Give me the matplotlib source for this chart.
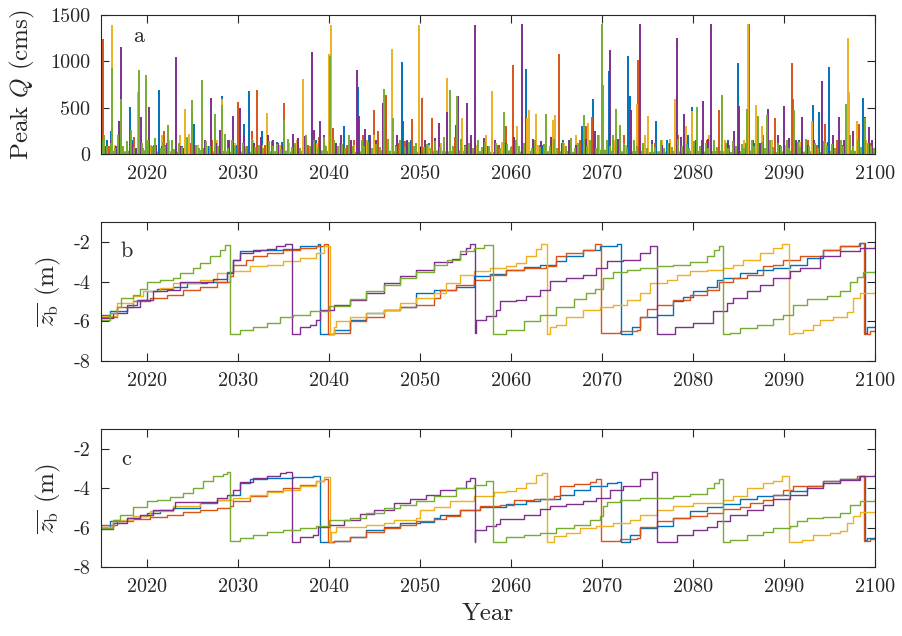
import matplotlib
matplotlib.use("Agg")
import matplotlib.pyplot as plt

plt.rcParams["font.family"] = "cmr10"
plt.rcParams["mathtext.fontset"] = "cm"
plt.rcParams["axes.unicode_minus"] = False

# MATLAB default colour order
colors = {
    "blue": "#0072BD",
    "orange": "#D95319",
    "yellow": "#EDB120",
    "purple": "#7E2F8E",
    "green": "#77AC30",
}
order = ["blue", "orange", "yellow", "purple", "green"]

# ---- panel a: peak discharge events (year, Q in cms) ----
peaks_blue = [
    (2015.05, 529), (2015.6, 150), (2016.0, 250), (2017.3, 80), (2018.1, 504), (2018.5, 150),
    (2019.5, 100), (2020.6, 80), (2021.3, 690), (2022.0, 100), (2023.8, 90), (2025.0, 470),
    (2025.2, 320), (2026.7, 80), (2028.2, 620), (2028.9, 150), (2029.8, 100), (2030.7, 320),
    (2031.2, 683), (2032.6, 250), (2034.3, 130), (2034.8, 130), (2036.5, 80), (2038.6, 150),
    (2041.7, 300), (2043.2, 720), (2044.4, 200), (2045.4, 150), (2047.4, 100), (2048.0, 996),
    (2048.1, 360), (2049.0, 150), (2051.0, 120), (2052.6, 110), (2054.0, 310), (2055.0, 100),
    (2057.4, 80), (2058.7, 100), (2060.8, 80), (2061.6, 917), (2063.5, 100), (2065.7, 150),
    (2066.5, 80), (2067.8, 300), (2069.0, 590), (2070.75, 895), (2072.0, 250), (2072.9, 1057),
    (2073.1, 626), (2074.6, 120), (2075.9, 350), (2077.2, 150), (2079.5, 200), (2079.9, 510),
    (2081.0, 150), (2083.8, 150), (2084.9, 985), (2086.8, 120), (2089.6, 100), (2091.6, 150),
    (2092.4, 100), (2093.15, 525), (2093.9, 450), (2094.8, 130), (2095.0, 942), (2096.5, 100),
    (2098.65, 608), (2099.2, 100),
]
peaks_orange = [
    (2015.2, 1237), (2015.8, 80), (2016.9, 120), (2018.6, 180), (2019.0, 200), (2020.8, 100),
    (2021.9, 250), (2022.8, 120), (2024.8, 120), (2026.3, 60), (2027.2, 150), (2028.6, 90),
    (2029.3, 150), (2030.0, 565), (2031.0, 80), (2031.5, 250), (2032.1, 690), (2033.0, 100),
    (2033.7, 140), (2035.05, 547), (2036.4, 80), (2037.7, 100), (2038.9, 180), (2040.4, 280),
    (2042.0, 100), (2042.8, 150), (2043.7, 200), (2044.9, 475), (2045.4, 250), (2046.3, 637),
    (2047.7, 120), (2048.4, 140), (2049.1, 380), (2050.2, 601), (2051.3, 390), (2052.3, 120),
    (2053.8, 180), (2055.6, 150), (2057.6, 60), (2058.6, 100), (2059.5, 300), (2060.2, 960),
    (2063.2, 100), (2065.3, 1079), (2066.5, 120), (2067.6, 150), (2068.3, 300), (2068.9, 400),
    (2069.6, 170), (2071.3, 120), (2072.4, 200), (2074.0, 1014), (2075.8, 120), (2077.5, 100),
    (2078.4, 200), (2080.3, 120), (2081.5, 150), (2082.9, 475), (2084.0, 100), (2085.8, 120),
    (2086.15, 1399), (2087.7, 200), (2089.0, 385), (2090.9, 978), (2091.0, 590), (2092.6, 150),
    (2093.6, 100), (2094.5, 320), (2095.8, 150), (2096.8, 120), (2098.2, 320), (2099.5, 120),
]
peaks_yellow = [
    (2015.4, 50), (2016.15, 1395), (2016.5, 100), (2017.8, 80), (2018.4, 100), (2019.0, 672),
    (2020.4, 100), (2021.7, 200), (2022.4, 150), (2023.6, 200), (2024.2, 482), (2024.6, 220),
    (2025.6, 100), (2026.6, 80), (2027.7, 150), (2028.2, 590), (2029.7, 120), (2030.8, 80),
    (2031.6, 150), (2032.6, 100), (2033.15, 439), (2034.6, 100), (2035.6, 120), (2036.5, 150),
    (2037.1, 565), (2037.2, 806), (2038.7, 120), (2039.6, 100), (2040.0, 1079), (2040.2, 1392),
    (2041.2, 120), (2042.7, 100), (2044.2, 150), (2045.0, 200), (2046.9, 1130), (2048.6, 120),
    (2049.9, 1392), (2051.0, 100), (2052.3, 120), (2053.0, 817), (2054.6, 390), (2056.2, 100),
    (2057.3, 200), (2057.95, 680), (2059.0, 130), (2060.7, 300), (2061.8, 390), (2062.0, 475),
    (2062.8, 430), (2063.0, 100), (2064.6, 370), (2064.8, 420), (2065.8, 120), (2067.2, 200),
    (2068.5, 330), (2069.7, 200), (2071.3, 150), (2072.6, 100), (2073.9, 540), (2074.7, 200),
    (2075.1, 410), (2076.6, 150), (2077.5, 160), (2078.0, 590), (2079.2, 300), (2079.9, 460),
    (2081.8, 200), (2083.5, 150), (2085.6, 150), (2086.1, 1399), (2086.9, 525), (2087.6, 300),
    (2088.7, 150), (2090.2, 100), (2091.8, 130), (2093.1, 350), (2094.6, 120), (2096.2, 150),
    (2097.0, 1248), (2097.1, 667), (2098.0, 360), (2099.0, 150),
]
peaks_purple = [
    (2015.4, 80), (2016.0, 150), (2016.6, 90), (2016.9, 360), (2017.1, 600), (2017.2, 1158),
    (2018.3, 120), (2018.8, 60), (2019.3, 400), (2019.9, 150), (2020.2, 510), (2021.0, 100),
    (2021.7, 80), (2022.2, 120), (2023.2, 1050), (2023.6, 90), (2024.0, 60), (2025.3, 100),
    (2026.4, 150), (2027.0, 601), (2027.6, 120), (2028.0, 260), (2029.0, 150), (2029.5, 410),
    (2030.2, 500), (2030.7, 200), (2031.8, 120), (2032.5, 180), (2033.3, 200), (2033.9, 150),
    (2034.4, 120), (2035.0, 80), (2036.0, 216), (2036.6, 170), (2037.4, 190), (2038.1, 1104),
    (2038.4, 260), (2039.0, 350), (2039.5, 200), (2040.8, 120), (2041.3, 200), (2042.4, 150),
    (2043.05, 906), (2043.3, 410), (2044.0, 270), (2044.5, 200), (2045.2, 150), (2045.9, 550),
    (2047.5, 200), (2048.6, 150), (2049.6, 120), (2050.6, 150), (2051.6, 170), (2052.1, 330),
    (2053.0, 456), (2054.2, 626), (2055.2, 550), (2055.6, 200), (2056.05, 1392), (2057.0, 170),
    (2058.3, 150), (2059.5, 120), (2060.3, 180), (2061.2, 1399), (2062.4, 160), (2063.3, 140),
    (2064.4, 180), (2065.6, 120), (2066.4, 150), (2067.2, 100), (2068.3, 160), (2069.2, 250),
    (2070.9, 1122), (2071.8, 160), (2072.4, 120), (2073.2, 475), (2074.2, 1399), (2075.5, 150),
    (2076.6, 100), (2077.4, 120), (2078.2, 1255), (2078.7, 180), (2079.0, 430), (2080.3, 150),
    (2081.1, 575), (2081.7, 160), (2081.95, 1399), (2083.9, 140), (2084.5, 250), (2085.1, 518),
    (2086.6, 150), (2087.4, 120), (2088.2, 485), (2089.4, 200), (2090.0, 520), (2090.6, 170),
    (2091.3, 150), (2092.0, 395), (2092.6, 100), (2093.3, 150), (2094.2, 788), (2095.4, 200),
    (2096.0, 400), (2096.6, 150), (2097.6, 250), (2098.9, 395), (2099.4, 290), (2099.7, 150),
]
peaks_green = [
    (2015.1, 150), (2015.3, 200), (2015.6, 90), (2016.0, 120), (2016.2, 931), (2016.5, 60),
    (2016.8, 200), (2017.1, 590), (2017.4, 80), (2017.8, 140), (2018.2, 260), (2018.6, 70),
    (2019.1, 906), (2019.4, 120), (2019.6, 60), (2019.85, 852), (2020.1, 150), (2020.5, 90),
    (2020.9, 170), (2021.5, 60), (2021.8, 130), (2022.0, 80), (2022.3, 313), (2022.7, 150),
    (2023.0, 50), (2023.5, 120), (2023.9, 70), (2024.4, 180), (2024.9, 583), (2025.4, 100),
    (2025.7, 60), (2026.1, 798), (2026.5, 140), (2026.9, 80), (2027.5, 430), (2027.8, 90),
    (2028.2, 530), (2028.6, 220), (2028.9, 60), (2029.3, 150), (2029.7, 80), (2030.5, 120),
    (2030.9, 60), (2031.5, 160), (2031.9, 70), (2032.3, 100), (2032.8, 60), (2033.4, 140),
    (2033.8, 80), (2034.3, 110), (2034.7, 50), (2035.1, 370), (2035.5, 160), (2035.9, 70),
    (2036.3, 120), (2036.8, 60), (2037.5, 200), (2037.9, 80), (2038.4, 150), (2038.8, 60),
    (2039.4, 180), (2039.7, 90), (2040.1, 1057), (2040.6, 150), (2041.0, 80), (2041.4, 110),
    (2041.8, 60), (2042.2, 200), (2042.6, 80), (2043.6, 150), (2043.9, 90), (2044.3, 130),
    (2044.7, 60), (2045.2, 110), (2045.6, 70), (2046.0, 698), (2046.5, 160), (2047.0, 390),
    (2047.4, 90), (2047.8, 150), (2048.4, 70), (2048.8, 130), (2049.3, 80), (2049.6, 120),
    (2050.4, 70), (2050.8, 110), (2051.2, 60), (2051.7, 140), (2052.2, 70), (2052.6, 180),
    (2053.3, 690), (2053.6, 90), (2054.1, 630), (2054.5, 160), (2054.9, 80), (2055.4, 120),
    (2055.8, 60), (2056.4, 150), (2056.8, 70), (2057.2, 130), (2057.6, 80), (2058.4, 120),
    (2058.8, 60), (2059.2, 450), (2059.6, 110), (2060.0, 70), (2060.5, 150), (2060.9, 80),
    (2061.4, 120), (2062.3, 60), (2062.6, 150), (2063.2, 70), (2063.6, 110), (2063.9, 430),
    (2064.3, 80), (2064.7, 160), (2065.1, 60), (2065.7, 130), (2066.1, 80), (2066.6, 170),
    (2067.0, 60), (2067.4, 120), (2068.0, 420), (2068.4, 80), (2068.7, 150), (2069.3, 60),
    (2069.6, 200), (2070.0, 1399), (2070.15, 744), (2070.5, 150), (2070.9, 80), (2071.2, 200),
    (2071.5, 480), (2072.0, 310), (2072.4, 120), (2072.7, 60), (2073.5, 150), (2073.8, 80),
    (2074.5, 120), (2074.9, 60), (2075.5, 110), (2075.8, 70), (2076.5, 150), (2076.8, 60),
    (2077.3, 120), (2077.7, 70), (2078.4, 160), (2078.8, 80), (2079.3, 110), (2079.6, 60),
    (2080.1, 140), (2080.4, 510), (2080.8, 80), (2081.4, 120), (2081.7, 60), (2082.3, 150),
    (2082.6, 70), (2083.2, 637), (2083.6, 120), (2083.9, 60), (2084.4, 140), (2084.7, 80),
    (2085.4, 110), (2085.6, 60), (2085.9, 480), (2086.5, 150), (2086.7, 80), (2087.2, 410),
    (2087.6, 130), (2087.9, 60), (2088.1, 420), (2088.5, 150), (2088.8, 70), (2089.4, 120),
    (2089.7, 80), (2090.3, 150), (2090.6, 60), (2091.1, 470), (2091.5, 130), (2091.8, 70),
    (2092.4, 160), (2092.7, 80), (2093.4, 120), (2093.7, 60), (2094.4, 140), (2094.7, 80),
    (2095.3, 110), (2095.6, 60), (2096.3, 150), (2096.5, 80), (2096.8, 540), (2097.3, 200),
    (2097.6, 90), (2098.1, 150), (2098.5, 70), (2098.9, 385), (2099.2, 120), (2099.6, 80),
    (2099.9, 60),
]
peaks = {
    "blue": peaks_blue,
    "orange": peaks_orange,
    "yellow": peaks_yellow,
    "purple": peaks_purple,
    "green": peaks_green,
}

# green low-flow carpet under the peaks (year, Q)
base_green = [
    (2015, 30), (2016, 45), (2017, 25), (2018, 40), (2019, 35), (2020, 50), (2021, 30),
    (2022, 45), (2023, 25), (2024, 40), (2025, 35), (2026, 50), (2027, 30), (2028, 45),
    (2029, 30), (2030, 35), (2031, 25), (2032, 40), (2033, 30), (2034, 35), (2035, 45),
    (2036, 25), (2037, 40), (2038, 30), (2039, 45), (2040, 35), (2041, 30), (2042, 40),
    (2043, 25), (2044, 45), (2045, 30), (2046, 50), (2047, 35), (2048, 30), (2049, 40),
    (2050, 25), (2051, 35), (2052, 45), (2053, 30), (2054, 50), (2055, 35), (2056, 30),
    (2057, 40), (2058, 25), (2059, 35), (2060, 45), (2061, 30), (2062, 40), (2063, 25),
    (2064, 35), (2065, 30), (2066, 40), (2067, 25), (2068, 45), (2069, 30), (2070, 55),
    (2071, 40), (2072, 35), (2073, 30), (2074, 45), (2075, 25), (2076, 35), (2077, 30),
    (2078, 40), (2079, 25), (2080, 45), (2081, 30), (2082, 35), (2083, 40), (2084, 25),
    (2085, 35), (2086, 45), (2087, 30), (2088, 40), (2089, 25), (2090, 35), (2091, 40),
    (2092, 30), (2093, 35), (2094, 25), (2095, 40), (2096, 30), (2097, 50), (2098, 35),
    (2099, 30), (2100, 25),
]

# ---- panel b: mean bed elevation (year, z_b in m), stepped ----
zb_b_blue = [
    (2015.0, -5.68), (2015.9, -5.5), (2017.8, -5.17), (2018.9, -4.92), (2020.0, -4.5),
    (2021.1, -4.38), (2022.9, -4.25), (2024.4, -4.08), (2026.6, -4.0), (2028.8, -3.5),
    (2029.5, -2.9), (2030.2, -2.47), (2032.4, -2.4), (2035.0, -2.34), (2036.8, -2.22),
    (2038.8, -2.13), (2039.0, -6.65), (2040.5, -6.44), (2042.3, -5.94), (2044.1, -5.6),
    (2046.0, -5.43), (2047.8, -5.26), (2049.6, -4.58), (2051.5, -4.42), (2054.0, -4.28),
    (2055.9, -3.74), (2057.7, -3.62), (2059.5, -3.4), (2061.4, -3.27), (2063.2, -3.15),
    (2065.0, -2.98), (2066.1, -2.73), (2067.9, -2.42), (2069.8, -2.22), (2071.6, -2.13),
    (2072.1, -6.65), (2073.3, -6.27), (2074.2, -5.8), (2076.0, -5.68), (2077.8, -5.0),
    (2078.9, -4.79), (2080.0, -4.5), (2081.5, -4.25), (2082.6, -3.9), (2083.3, -3.82),
    (2085.2, -3.57), (2087.0, -3.4), (2088.8, -3.32), (2090.7, -3.15), (2092.5, -2.81),
    (2094.3, -2.39), (2096.2, -2.22), (2098.4, -2.08), (2098.9, -6.61), (2099.1, -6.3),
    (2100.0, -6.25),
]
zb_b_orange = [
    (2015.0, -5.77), (2016.7, -5.26), (2018.5, -5.0), (2020.3, -4.84), (2022.2, -4.67),
    (2024.0, -4.42), (2025.8, -4.25), (2027.7, -4.0), (2029.1, -3.74), (2029.5, -3.15),
    (2030.9, -2.9), (2031.7, -2.73), (2033.2, -2.56), (2035.0, -2.39), (2036.8, -2.3),
    (2038.6, -2.2), (2039.4, -2.13), (2039.9, -6.65), (2040.5, -6.6), (2042.3, -6.0),
    (2044.1, -5.77), (2046.0, -5.43), (2047.8, -5.26), (2049.6, -5.17), (2051.5, -4.84),
    (2052.2, -4.42), (2054.0, -4.16), (2055.9, -3.94), (2057.7, -3.66), (2059.5, -3.4),
    (2061.4, -3.32), (2063.9, -3.23), (2065.0, -2.73), (2066.1, -2.56), (2067.9, -2.39),
    (2069.2, -2.13), (2069.9, -6.6), (2072.0, -6.48), (2073.8, -6.44), (2074.2, -5.77),
    (2074.9, -5.4), (2076.0, -5.17), (2077.8, -4.92), (2079.7, -4.67), (2081.5, -4.42),
    (2082.9, -4.0), (2084.4, -3.82), (2085.9, -3.66), (2087.7, -3.23), (2088.8, -3.15),
    (2089.9, -2.9), (2091.8, -2.73), (2094.3, -2.39), (2096.2, -2.22), (2098.2, -2.08),
    (2098.8, -6.65), (2099.5, -6.48), (2100.0, -6.4),
]
zb_b_yellow = [
    (2015.0, -5.73), (2016.7, -5.1), (2018.5, -4.75), (2019.6, -4.5), (2021.4, -4.33),
    (2022.9, -4.08), (2025.8, -3.9), (2027.7, -3.57), (2029.5, -3.49), (2031.3, -3.23),
    (2033.2, -3.15), (2035.0, -2.98), (2036.8, -2.81), (2038.6, -2.56), (2039.5, -2.22),
    (2040.1, -6.65), (2040.5, -6.27), (2040.8, -6.0), (2042.3, -5.77), (2044.1, -5.6),
    (2046.0, -5.43), (2047.8, -5.1), (2049.6, -4.84), (2051.5, -4.58), (2052.9, -4.08),
    (2054.4, -3.66), (2055.9, -3.49), (2057.7, -3.32), (2059.5, -3.23), (2060.6, -3.06),
    (2061.7, -2.73), (2062.8, -2.35), (2063.3, -2.1), (2064.0, -6.65), (2064.3, -6.27),
    (2065.0, -6.2), (2066.1, -5.77), (2067.9, -5.43), (2069.8, -5.26), (2071.2, -5.17),
    (2072.7, -4.92), (2074.2, -4.58), (2075.3, -4.08), (2077.1, -3.9), (2078.2, -3.66),
    (2079.7, -3.49), (2081.5, -3.44), (2083.3, -3.32), (2084.4, -3.15), (2085.5, -2.9),
    (2087.4, -2.56), (2088.8, -2.3), (2089.8, -2.1), (2090.6, -6.65), (2091.0, -6.58),
    (2092.1, -6.44), (2093.2, -6.2), (2094.0, -5.94), (2095.4, -5.8), (2096.9, -5.51),
    (2097.6, -4.84), (2098.4, -4.58), (2100.0, -4.55),
]
zb_b_purple = [
    (2015.0, -5.85), (2016.3, -5.6), (2017.8, -5.26), (2019.2, -4.92), (2020.7, -4.5),
    (2022.2, -4.42), (2023.6, -4.04), (2027.3, -3.85), (2028.8, -3.57), (2029.5, -2.9),
    (2030.2, -2.56), (2031.7, -2.42), (2033.2, -2.35), (2034.2, -2.22), (2035.2, -2.13),
    (2035.9, -6.65), (2036.8, -6.27), (2037.9, -6.2), (2038.6, -5.94), (2039.0, -5.43),
    (2040.5, -5.17), (2042.3, -4.92), (2044.1, -4.58), (2046.0, -4.08), (2047.8, -3.74),
    (2049.6, -3.4), (2051.5, -3.0), (2053.5, -2.85), (2054.4, -2.6), (2055.1, -2.3),
    (2055.5, -2.13), (2056.0, -6.6), (2056.2, -5.94), (2057.3, -5.75), (2058.4, -5.43),
    (2058.8, -5.0), (2060.6, -4.92), (2061.7, -4.75), (2063.2, -4.42), (2064.3, -3.96),
    (2066.1, -3.82), (2067.9, -3.66), (2069.4, -3.32), (2070.5, -2.98), (2072.3, -2.9),
    (2074.2, -2.56), (2075.3, -2.2), (2076.0, -6.65), (2078.0, -6.27), (2080.0, -6.07),
    (2082.2, -5.5), (2083.7, -5.1), (2084.4, -4.84), (2085.9, -4.5), (2087.4, -4.16),
    (2088.8, -3.82), (2090.7, -3.49), (2091.8, -3.32), (2094.0, -2.73), (2096.2, -2.47),
    (2098.4, -2.3), (2100.0, -2.13),
]
zb_b_green = [
    (2015.0, -5.94), (2015.9, -5.6), (2016.7, -5.26), (2017.2, -4.84), (2018.5, -4.67),
    (2019.2, -4.4), (2020.0, -4.0), (2021.4, -3.9), (2022.9, -3.8), (2023.6, -3.57),
    (2025.1, -3.3), (2025.8, -3.06), (2026.9, -2.73), (2028.0, -2.39), (2028.6, -2.17),
    (2029.1, -6.65), (2030.2, -6.44), (2031.7, -6.3), (2033.2, -6.1), (2034.6, -5.77),
    (2036.1, -5.68), (2037.9, -5.48), (2040.0, -5.23), (2042.3, -4.9), (2044.1, -4.5),
    (2046.0, -4.16), (2047.8, -3.8), (2049.6, -3.5), (2051.5, -3.15), (2053.0, -2.9),
    (2054.4, -2.47), (2055.9, -2.3), (2057.0, -2.17), (2058.0, -6.65), (2059.5, -6.44),
    (2061.4, -6.0), (2063.2, -5.7), (2065.0, -5.3), (2066.9, -4.9), (2068.3, -4.6),
    (2069.2, -4.4), (2070.1, -3.8), (2071.2, -3.5), (2072.7, -3.4), (2074.2, -3.3),
    (2076.0, -3.2), (2077.8, -3.15), (2079.7, -3.0), (2081.5, -2.7), (2082.3, -2.4),
    (2082.9, -2.2), (2083.3, -6.65), (2084.1, -6.6), (2085.2, -6.35), (2087.0, -6.2),
    (2088.8, -5.9), (2089.9, -5.7), (2091.0, -5.2), (2092.5, -4.9), (2094.7, -4.75),
    (2096.2, -4.5), (2097.3, -4.0), (2098.0, -3.75), (2098.7, -3.5), (2100.0, -3.45),
]

# ---- panel c ----
zb_c_blue = [
    (2015.0, -5.95), (2015.9, -5.69), (2017.8, -5.5), (2019.2, -5.43), (2020.0, -5.27),
    (2021.4, -5.1), (2022.9, -5.0), (2025.8, -4.76), (2027.7, -4.59), (2029.1, -4.33),
    (2030.2, -3.73), (2031.3, -3.56), (2033.2, -3.48), (2036.1, -3.43), (2038.2, -3.36),
    (2039.0, -6.71), (2040.5, -6.66), (2042.3, -6.46), (2044.1, -6.12), (2046.0, -5.95),
    (2047.8, -5.78), (2050.0, -5.7), (2051.5, -5.52), (2052.2, -5.35), (2054.4, -5.1),
    (2056.6, -4.96), (2059.5, -4.79), (2061.7, -4.64), (2063.2, -4.53), (2065.4, -4.33),
    (2066.9, -4.07), (2068.7, -3.9), (2070.5, -3.73), (2071.6, -3.68), (2072.1, -6.71),
    (2073.1, -6.37), (2074.2, -6.03), (2076.0, -5.91), (2077.8, -5.52), (2079.7, -5.18),
    (2081.5, -4.96), (2083.3, -4.79), (2085.2, -4.55), (2087.0, -4.41), (2088.8, -4.33),
    (2090.7, -4.16), (2092.5, -3.9), (2094.3, -3.65), (2096.2, -3.53), (2098.2, -3.39),
    (2098.9, -6.63), (2099.1, -6.55), (2100.0, -6.5),
]
zb_c_orange = [
    (2015.0, -5.86), (2016.7, -5.69), (2018.5, -5.57), (2020.3, -5.47), (2022.2, -5.35),
    (2024.0, -5.23), (2025.8, -5.1), (2027.7, -5.01), (2029.1, -4.93), (2029.5, -4.67),
    (2031.3, -4.41), (2033.2, -4.16), (2035.0, -3.99), (2036.8, -3.82), (2038.6, -3.65),
    (2039.4, -3.53), (2039.9, -6.71), (2040.5, -6.66), (2042.3, -6.46), (2044.1, -6.2),
    (2046.0, -6.03), (2047.8, -5.86), (2049.6, -5.69), (2051.5, -5.57), (2052.9, -5.4),
    (2054.4, -5.1), (2056.6, -4.93), (2058.8, -4.84), (2060.3, -4.62), (2062.5, -4.53),
    (2064.7, -4.41), (2065.4, -3.9), (2066.9, -3.77), (2068.7, -3.7), (2069.4, -3.53),
    (2069.9, -6.66), (2072.0, -6.6), (2073.8, -6.52), (2074.2, -5.95), (2076.0, -5.66),
    (2077.8, -5.52), (2079.7, -5.4), (2081.5, -5.27), (2083.3, -5.06), (2085.2, -4.96),
    (2086.3, -4.76), (2087.7, -4.59), (2088.8, -4.33), (2089.9, -4.07), (2091.0, -3.87),
    (2094.3, -3.65), (2096.2, -3.55), (2098.0, -3.36), (2098.8, -6.66), (2099.5, -6.58),
    (2100.0, -6.52),
]
zb_c_yellow = [
    (2015.0, -5.98), (2016.3, -5.6), (2018.5, -5.4), (2020.3, -5.18), (2022.9, -4.93),
    (2025.8, -4.72), (2027.7, -4.59), (2029.5, -4.5), (2031.3, -4.33), (2033.2, -4.21),
    (2035.0, -4.11), (2036.8, -3.9), (2038.6, -3.62), (2039.5, -3.43), (2040.1, -6.71),
    (2040.2, -6.2), (2040.8, -5.98), (2044.1, -5.85), (2046.0, -5.78), (2047.1, -5.6),
    (2049.6, -5.5), (2050.0, -5.1), (2051.5, -4.96), (2053.3, -4.67), (2055.9, -4.41),
    (2058.1, -4.21), (2059.5, -4.16), (2060.6, -3.99), (2061.7, -3.73), (2062.8, -3.31),
    (2063.4, -3.22), (2064.0, -6.71), (2064.7, -6.45), (2066.1, -6.29), (2067.6, -6.03),
    (2069.4, -5.91), (2071.2, -5.78), (2073.1, -5.6), (2074.2, -5.35), (2076.0, -5.1),
    (2077.8, -4.93), (2080.0, -4.76), (2083.3, -4.59), (2084.4, -4.41), (2085.9, -3.99),
    (2087.7, -3.73), (2088.8, -3.62), (2089.8, -3.39), (2090.6, -6.71), (2092.0, -6.63),
    (2093.2, -6.37), (2095.1, -6.29), (2096.2, -6.15), (2096.9, -5.78), (2097.6, -5.43),
    (2098.4, -5.23), (2100.0, -5.2),
]
zb_c_purple = [
    (2015.0, -6.08), (2016.3, -5.78), (2017.8, -5.52), (2019.2, -5.35), (2020.7, -5.1),
    (2022.9, -5.01), (2023.1, -4.72), (2026.9, -4.69), (2027.7, -4.5), (2028.8, -4.33),
    (2029.5, -4.07), (2030.2, -3.7), (2031.7, -3.48), (2033.2, -3.39), (2034.6, -3.22),
    (2035.3, -3.17), (2035.9, -6.71), (2036.8, -6.49), (2038.3, -6.37), (2038.8, -5.95),
    (2040.0, -5.86), (2041.6, -5.6), (2043.4, -5.3), (2044.9, -5.1), (2047.1, -4.76),
    (2048.9, -4.55), (2050.7, -4.33), (2052.2, -4.1), (2054.0, -3.99), (2055.1, -3.65),
    (2055.5, -3.48), (2056.0, -6.71), (2056.1, -6.12), (2057.3, -5.91), (2058.4, -5.8),
    (2058.8, -5.57), (2061.4, -5.35), (2063.2, -5.06), (2064.3, -4.89), (2066.1, -4.79),
    (2067.9, -4.67), (2069.4, -4.5), (2070.9, -4.07), (2072.3, -3.9), (2074.2, -3.56),
    (2075.5, -3.19), (2076.0, -6.71), (2078.2, -6.37), (2080.0, -6.12), (2081.5, -5.95),
    (2082.6, -5.69), (2084.1, -5.35), (2085.9, -5.1), (2087.7, -4.84), (2088.8, -4.55),
    (2090.7, -4.33), (2092.5, -3.99), (2094.3, -3.73), (2096.2, -3.6), (2098.4, -3.39),
    (2100.0, -3.26),
]
zb_c_green = [
    (2015.0, -6.03), (2016.3, -5.6), (2017.0, -5.35), (2018.5, -4.96), (2020.0, -4.67),
    (2021.1, -4.58), (2022.5, -4.45), (2024.0, -4.24), (2025.1, -3.99), (2026.2, -3.65),
    (2027.3, -3.39), (2028.4, -3.26), (2028.8, -3.19), (2029.1, -6.68), (2030.2, -6.54),
    (2031.7, -6.37), (2033.2, -6.2), (2035.0, -6.12), (2036.8, -6.03), (2038.6, -5.9),
    (2040.0, -5.6), (2042.3, -5.52), (2044.1, -5.27), (2046.0, -5.01), (2047.8, -4.84),
    (2049.6, -4.67), (2051.5, -4.41), (2054.0, -3.99), (2055.9, -3.82), (2057.3, -3.65),
    (2058.0, -6.71), (2059.5, -6.49), (2061.4, -6.4), (2063.2, -6.3), (2065.0, -6.03),
    (2066.9, -5.86), (2068.7, -5.6), (2069.8, -5.43), (2070.1, -4.89), (2070.5, -4.72),
    (2072.0, -4.58), (2074.2, -4.5), (2077.8, -4.38), (2079.7, -4.3), (2081.5, -3.99),
    (2082.3, -3.73), (2082.9, -3.53), (2083.3, -6.71), (2084.1, -6.65), (2085.9, -6.37),
    (2087.7, -6.2), (2088.8, -6.03), (2090.7, -5.91), (2091.4, -5.66), (2092.5, -5.52),
    (2094.3, -5.45), (2096.2, -5.27), (2097.3, -4.84), (2098.4, -4.67), (2100.0, -4.53),
]

zb_b = {"blue": zb_b_blue, "orange": zb_b_orange, "yellow": zb_b_yellow,
        "purple": zb_b_purple, "green": zb_b_green}
zb_c = {"blue": zb_c_blue, "orange": zb_c_orange, "yellow": zb_c_yellow,
        "purple": zb_c_purple, "green": zb_c_green}

year_ticks = [2020, 2030, 2040, 2050, 2060, 2070, 2080, 2090, 2100]
q_ticks = [0, 500, 1000, 1500]
zb_ticks = [-8, -6, -4, -2]

fig = plt.figure(figsize=(9.02, 6.36), dpi=100)
ax_a = fig.add_axes([0.1125, 0.758, 0.8575, 0.2186])
ax_b = fig.add_axes([0.1125, 0.4324, 0.8575, 0.2186])
ax_c = fig.add_axes([0.1125, 0.1085, 0.8575, 0.217])

# panel a: peaks as vertical lines, green carpet on top
for name in order:
    t, q = zip(*peaks[name])
    ax_a.vlines(t, 0, q, color=colors[name], lw=1.4)
tb, qb = zip(*base_green)
ax_a.fill_between(tb, 0, qb, color=colors["green"], lw=0)

# panels b, c: stepped bed elevation
for ax, data in [(ax_b, zb_b), (ax_c, zb_c)]:
    for name in order:
        t, z = zip(*data[name])
        ax.plot(t, z, drawstyle="steps-post", color=colors[name], lw=1.0)

for ax in [ax_a, ax_b, ax_c]:
    ax.set_xlim(2015, 2100)
    ax.set_xticks(year_ticks)
    ax.set_xticklabels([str(y) for y in year_ticks])
    ax.tick_params(direction="in", length=5.5, width=0.8, top=True, right=True,
                   labelsize=14.5, colors="#262626", pad=8)
    for s in ax.spines.values():
        s.set_color("#262626")
        s.set_linewidth(0.8)

ax_a.set_ylim(0, 1500)
ax_a.set_yticks(q_ticks)
ax_a.set_yticklabels([str(v) for v in q_ticks])
ax_a.set_ylabel("Peak $Q$ (cms)", fontsize=18, color="#262626")
ax_a.yaxis.set_label_coords(-0.083, 0.5)

for ax in [ax_b, ax_c]:
    ax.set_ylim(-8, -1)
    ax.set_yticks(zb_ticks)
    ax.set_yticklabels([str(v) for v in zb_ticks])
    ax.set_ylabel(r"$\overline{z_\mathrm{b}}$ (m)", fontsize=18, color="#262626")
    ax.yaxis.set_label_coords(-0.05, 0.5)

ax_c.set_xlabel("Year", fontsize=18, color="#262626", labelpad=5)

ax_a.text(0.041, 0.806, "a", transform=ax_a.transAxes, fontsize=16, color="#262626")
ax_b.text(0.025, 0.748, "b", transform=ax_b.transAxes, fontsize=16, color="#262626")
ax_c.text(0.025, 0.739, "c", transform=ax_c.transAxes, fontsize=16, color="#262626")

fig.savefig("out.png", dpi=100)
